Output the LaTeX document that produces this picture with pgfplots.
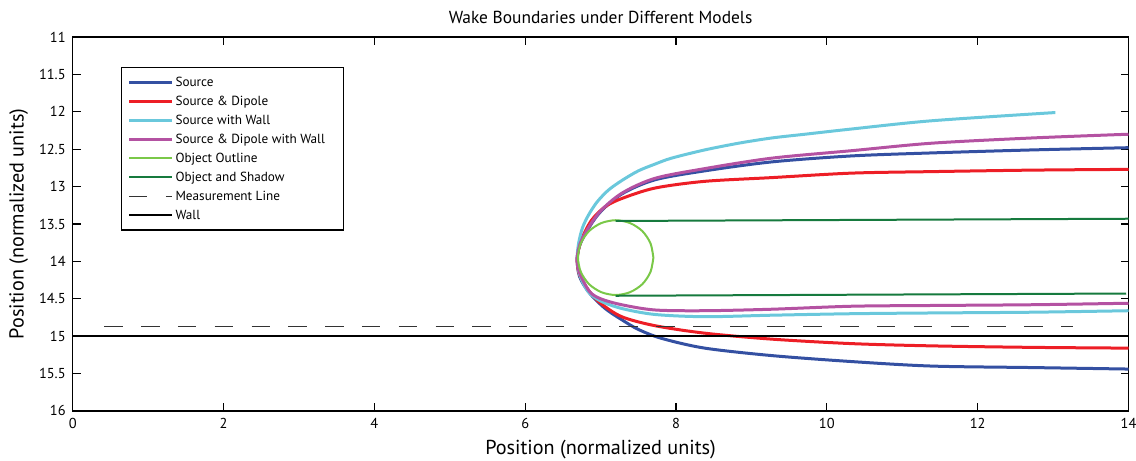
\documentclass[border=0pt]{standalone}
\usepackage{pgfplots}
\pgfplotsset{compat=1.18}
\usepackage{fontspec}
\setmainfont{PT Sans}
\definecolor{cblue}{RGB}{52,80,162}
\definecolor{cred}{RGB}{237,30,38}
\definecolor{ccyan}{RGB}{106,200,220}
\definecolor{cmag}{RGB}{180,82,162}
\definecolor{clgreen}{RGB}{122,200,72}
\definecolor{cdgreen}{RGB}{22,122,62}
\begin{document}
\begin{tikzpicture}
\begin{axis}[
  scale only axis,
  width=528pt, height=187pt,
  xmin=0, xmax=14, ymin=11, ymax=16,
  y dir=reverse,
  xtick={0,2,...,14},
  ytick={11,11.5,...,16},
  tick align=inside,
  major tick length=4pt,
  tick style={black, line width=0.6pt},
  axis line style={line width=0.8pt},
  /pgf/number format/assume math mode=true,
  ticklabel style={font=\fontsize{7.2}{8}\selectfont},
  title={Wake Boundaries under Different Models},
  title style={font=\fontsize{8.7}{10}\selectfont, at={(axis description cs:0.5,1.021)}, anchor=center},
  xlabel={Position (normalized units)},
  ylabel={Position (normalized units)},
  xlabel style={font=\fontsize{10.1}{11}\selectfont, at={(axis description cs:0.5,-0.104)}, anchor=center},
  ylabel style={font=\fontsize{10.1}{11}\selectfont, at={(axis description cs:-0.0512,0.5)}, anchor=center},
  legend style={at={(0.0457,0.92)}, anchor=north west, font=\fontsize{6.6}{8}\selectfont,
    draw=black, line width=0.6pt, row sep=0.7pt, inner xsep=3pt, inner ysep=3pt,
    nodes={inner sep=1pt, text height=5.3pt, text depth=1.5pt}},
  legend cell align=left,
  legend image code/.code={\draw[#1] (0pt,0pt) -- (21.5pt,0pt);},
]
\coordinate (bl) at (axis description cs:0,0);
\coordinate (tr) at (axis description cs:1,1);
% Source
\addplot[cblue, line width=1.5pt, smooth, tension=0.5] coordinates {
(14.0,12.48) (12.72,12.51) (11.39,12.55) (10.33,12.59) (9.27,12.67) (8.38,12.79) (7.72,12.91) (7.28,13.10) (6.97,13.37) (6.75,13.72) (6.69,13.95)
(6.72,14.20) (6.85,14.42) (7.06,14.63) (7.28,14.78) (7.50,14.91) (7.81,15.03) (8.38,15.16) (9.27,15.26) (10.33,15.34) (11.39,15.40) (12.72,15.42) (14.0,15.44)};
\addlegendentry{Source}
% Source & Dipole
\addplot[cred, line width=1.5pt, smooth, tension=0.5] coordinates {
(14.0,12.77) (12.72,12.78) (11.39,12.80) (10.33,12.82) (9.27,12.88) (8.38,12.93) (7.72,13.02) (7.28,13.16) (7.06,13.27) (6.88,13.45) (6.75,13.70) (6.69,13.95)
(6.72,14.18) (6.85,14.40) (7.0,14.56) (7.28,14.74) (7.72,14.86) (8.38,14.96) (9.27,15.04) (10.33,15.10) (11.39,15.13) (12.72,15.15) (14.0,15.16)};
\addlegendentry{Source \& Dipole}
% Source with Wall
\addplot[ccyan, line width=1.5pt, smooth, tension=0.5] coordinates {
(13.03,12.01) (11.39,12.12) (10.33,12.23) (9.71,12.30) (9.27,12.35) (8.83,12.42) (8.38,12.51) (7.94,12.62) (7.72,12.70) (7.50,12.79) (7.28,12.92) (7.10,13.05) (6.95,13.21) (6.84,13.38) (6.76,13.55) (6.71,13.75) (6.69,13.95)
(6.72,14.17) (6.83,14.40) (7.0,14.53) (7.28,14.63) (7.72,14.71) (8.38,14.74) (9.27,14.72) (10.33,14.70) (11.39,14.69) (12.72,14.68) (14.0,14.66)};
\addlegendentry{Source with Wall}
% Source & Dipole with Wall
\addplot[cmag, line width=1.5pt, smooth, tension=0.5] coordinates {
(14.0,12.30) (12.72,12.35) (11.39,12.42) (10.33,12.52) (9.27,12.62) (8.38,12.76) (7.72,12.89) (7.28,13.09) (6.97,13.36) (6.75,13.71) (6.69,13.95)
(6.72,14.15) (6.85,14.40) (7.0,14.50) (7.28,14.58) (7.72,14.65) (8.38,14.66) (9.27,14.64) (10.33,14.60) (11.39,14.59) (12.72,14.58) (14.0,14.56)};
\addlegendentry{\makebox[80pt][l]{Source \& Dipole with Wall}}
% Object Outline
\addplot[clgreen, line width=1pt, smooth] coordinates {
(7.70,13.95) (7.662,14.141) (7.554,14.304) (7.391,14.412) (7.20,14.45) (7.009,14.412) (6.846,14.304) (6.738,14.141) (6.70,13.95)
(6.738,13.759) (6.846,13.596) (7.009,13.488) (7.20,13.45) (7.391,13.488) (7.554,13.596) (7.662,13.759) (7.70,13.95)};
\addlegendentry{Object Outline}
% Object and Shadow
\addplot[cdgreen, line width=1pt] coordinates {(7.2,13.46) (14.0,13.43)};
\addlegendentry{Object and Shadow}
\addplot[cdgreen, line width=1pt, forget plot] coordinates {(7.2,14.46) (13.97,14.43)};
% Measurement Line
\addplot[black!80, line width=0.7pt, dash pattern=on 9.2pt off 9.2pt] coordinates {(0.42,14.87) (13.26,14.87)};
\addlegendentry{Measurement Line}
% Wall
\addplot[black, line width=0.9pt] coordinates {(0,15) (14,15)};
\addlegendentry{Wall}
\end{axis}
\pgfresetboundingbox
\path[use as bounding box] ([xshift=-36.35pt,yshift=-25pt]bl) rectangle ([xshift=3.75pt,yshift=18.5pt]tr);
\end{tikzpicture}
\end{document}
